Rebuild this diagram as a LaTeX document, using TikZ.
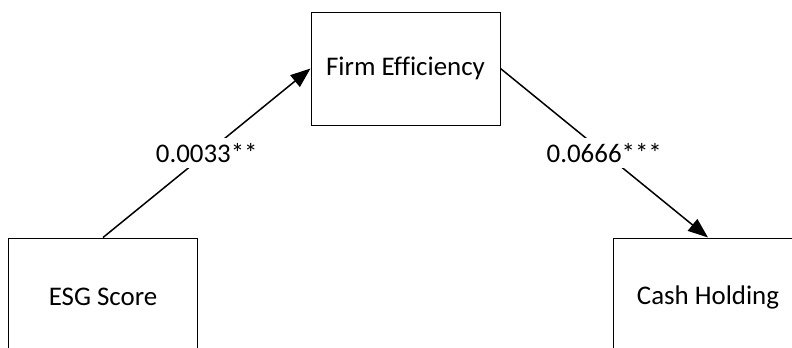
\documentclass[tikz,border=0pt]{standalone}
\usepackage{fontspec}
\setmainfont[Ligatures=NoCommon]{Carlito}
\usetikzlibrary{arrows.meta}
\begin{document}
\begin{tikzpicture}[x=1bp,y=-1bp,
  box/.style={draw=black,line width=1bp,minimum width=#1,inner sep=0pt,font=\fontsize{27}{31}\selectfont},
  link/.style={line width=1.5bp,-{Triangle[length=20bp,width=15bp]}},
  lbl/.style={fill=white,inner xsep=1bp,inner ysep=5bp,font=\fontsize{27}{31}\selectfont}]
\useasboundingbox (0,0) rectangle (792,347);
\clip (0,0) rectangle (792,347);
\node[box=189bp,minimum height=113bp] (firm) at (405.5,68.5) {Firm Efficiency};
\node[box=188bp,minimum height=118bp] (esg) at (103,297) {ESG Score};
\node[box=190bp,minimum height=118bp] (cash) at (708,297) {Cash Holding};
\draw[link] (esg.north) -- node[lbl] {0.0033**} (firm.west);
\draw[link] (firm.east) -- node[lbl] {0.0666***} (cash.north);
\end{tikzpicture}
\end{document}
